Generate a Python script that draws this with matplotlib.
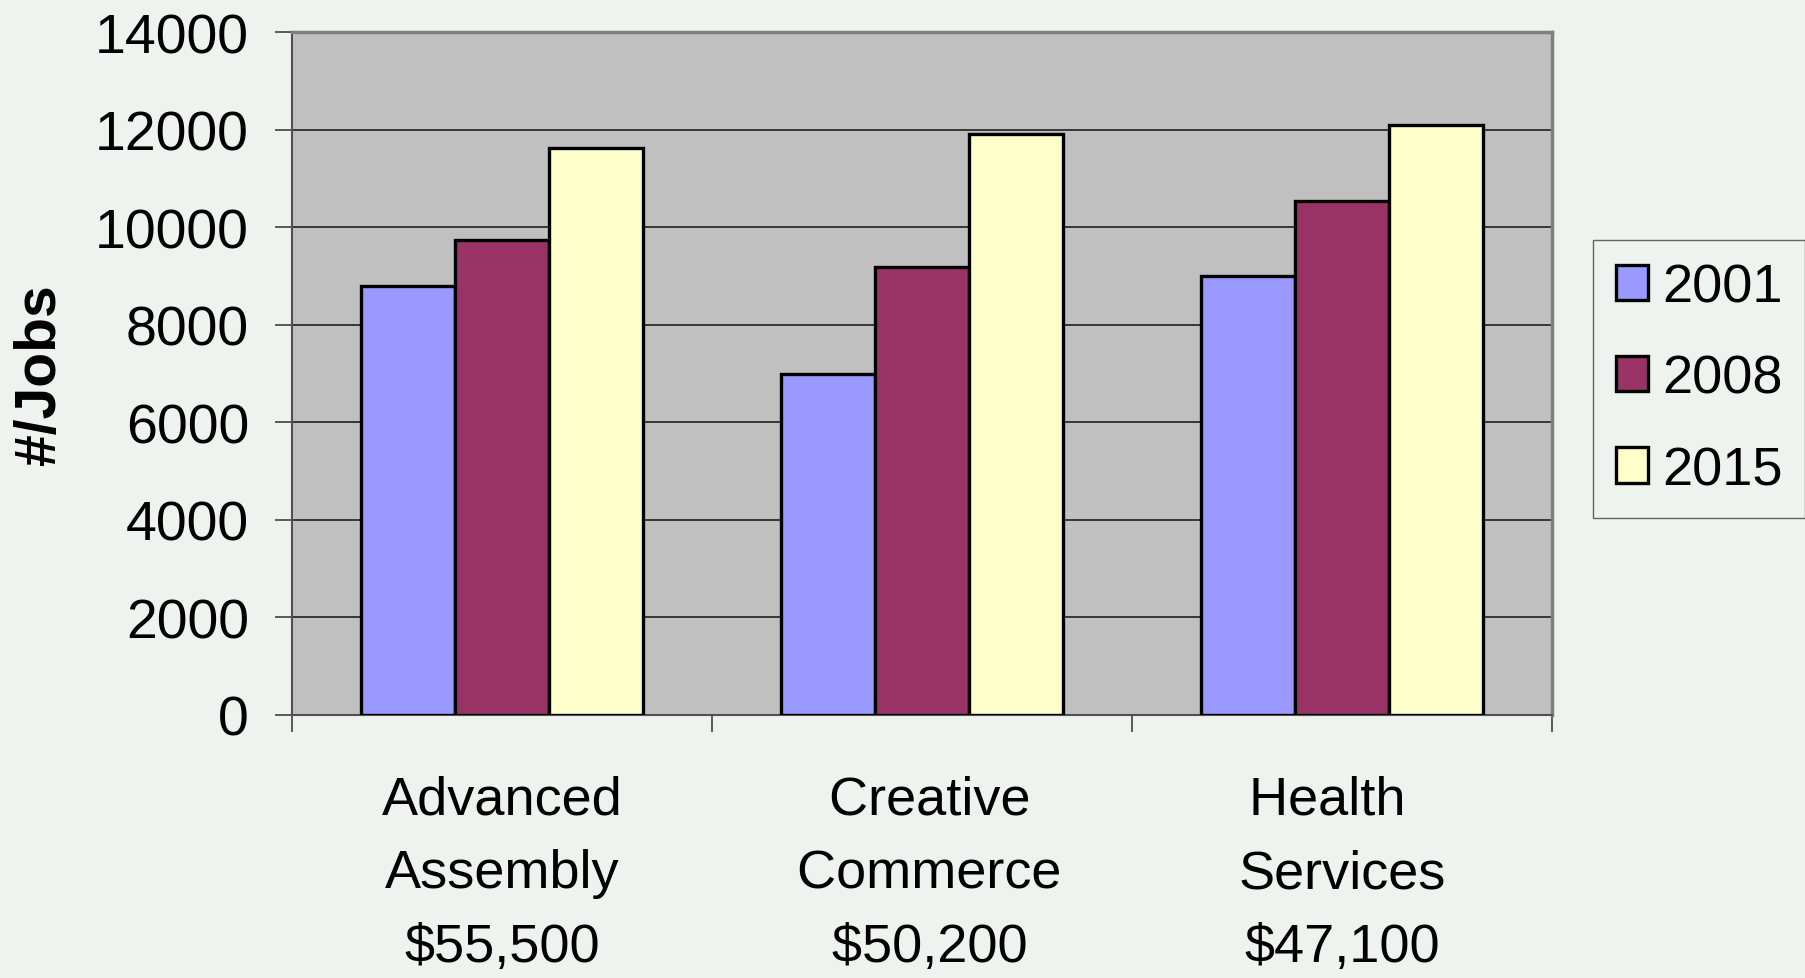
import matplotlib
matplotlib.use("Agg")
import matplotlib.pyplot as plt
import numpy as np

categories = ["Advanced\nAssembly\n$55,500", " Creative\n Commerce\n $50,200", "Health  \nServices\n$47,100"]
series_names = ["2001", "2008", "2015"]
values_2001 = [8800, 7000, 9000]
values_2008 = [9730, 9180, 10540]
values_2015 = [11630, 11900, 12100]
colors = ["#9999FF", "#993366", "#FFFFCC"]
yticks = [0, 2000, 4000, 6000, 8000, 10000, 12000, 14000]

plt.rcParams['font.family'] = ['Liberation Sans', 'DejaVu Sans']

bg = "#EFF3EF"
fig = plt.figure(figsize=(18.05, 9.79), dpi=100, facecolor=bg)
ax = fig.add_axes([292/1805, 1-716/979, 1260/1805, (716-33)/979])
ax.set_facecolor("#C0C0C0")

x = np.arange(len(categories))
bw = 0.224
all_vals = [values_2001, values_2008, values_2015]
for i, (vals, name, c) in enumerate(zip(all_vals, series_names, colors)):
    ax.bar(x + (i - 1) * bw, vals, width=bw, color=c, edgecolor="black",
           linewidth=2.4, label=name, zorder=3)

ax.set_xlim(-0.5, len(categories) - 0.5)
ax.set_ylim(0, 14000)
ax.set_yticks(yticks)
ax.set_yticklabels([str(t) for t in yticks], fontsize=40)
ax.yaxis.grid(True, color="#202020", linewidth=1.2, zorder=1)
ax.set_axisbelow(True)

ax.set_xticks(x)
ax.set_xticklabels(categories, fontsize=39, linespacing=1.62)
ax.tick_params(axis='x', which='major', length=0, pad=42.5)
ax.set_xticks(np.arange(-0.5, len(categories)), minor=True)
ax.tick_params(axis='x', which='minor', length=12, width=1.2, color="#404040", direction='out')
ax.tick_params(axis='y', length=12, width=1.2, color="#404040", pad=19)

for side in ["top", "right"]:
    ax.spines[side].set_color("#808080")
    ax.spines[side].set_linewidth(2.5)
ax.spines["left"].set_color("#505050")
ax.spines["left"].set_linewidth(1.5)
ax.spines["bottom"].set_color("#505050")
ax.spines["bottom"].set_linewidth(1.5)

ax.set_ylabel("#/Jobs", fontsize=41, fontweight='bold', labelpad=20)

leg = fig.legend(loc='upper left', bbox_to_anchor=(1593/1805, 1-241/979),
                 fontsize=39, frameon=True, fancybox=False, shadow=False,
                 handlelength=0.6, handleheight=0.62, handletextpad=0.25,
                 labelspacing=0.76, borderpad=0.42, borderaxespad=0)
leg.get_frame().set_facecolor(bg)
leg.get_frame().set_edgecolor("#404040")
leg.get_frame().set_linewidth(1.0)

fig.savefig("out.png", dpi=100, facecolor=bg)
